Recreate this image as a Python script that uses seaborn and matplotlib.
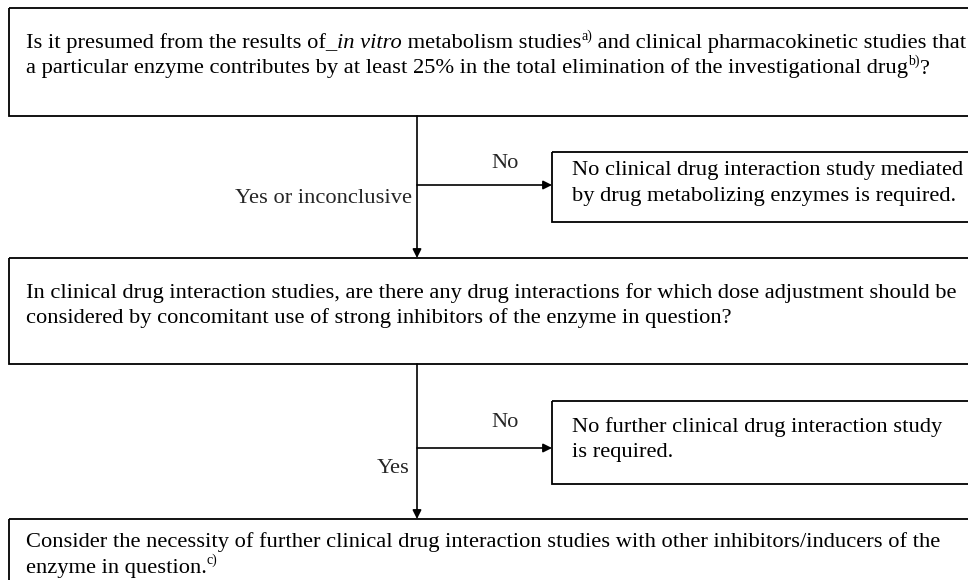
import matplotlib
matplotlib.use("Agg")
import matplotlib.pyplot as plt
from matplotlib.patches import Rectangle
import seaborn as sns

sns.set_theme(style="white")
plt.rcParams["font.family"] = ["Liberation Serif", "DejaVu Serif"]

# box texts, one list per line; (text, kind) with kind n=normal, it=italic, sup=superscript
q1_line1 = [("Is it presumed from the results of_", "n"), ("in vitro", "it"),
            (" metabolism studies", "n"), ("a)", "sup"),
            (" and clinical pharmacokinetic studies that", "n")]
q1_line2 = [("a particular enzyme contributes by at least 25% in the total elimination of the investigational drug", "n"),
            ("b)", "sup"), ("?", "n")]
end1_lines = ["No clinical drug interaction study mediated",
              "by drug metabolizing enzymes is required."]
q2_lines = ["In clinical drug interaction studies, are there any drug interactions for which dose adjustment should be",
            "considered by concomitant use of strong inhibitors of the enzyme in question?"]
end2_lines = ["No further clinical drug interaction study",
              "is required."]
final_line1 = [("Consider the necessity of further clinical drug interaction studies with other inhibitors/inducers of the", "n")]
final_line2 = [("enzyme in question.", "n"), ("c)", "sup")]
branch_no = ["No", "No"]
branch_yes = ["Yes or inconclusive", "Yes"]

FS = 16.2
LINE_H = 25.5
STEM_X = 417
SIDE_X = 552


def rich_line(ax, x, y, parts):
    """Write a line made of pieces (normal / italic / superscript) one after another."""
    base = prev = None
    for s, kind in parts:
        kw = dict(fontsize=FS, color="black", ha="left")
        if kind == "it":
            kw["style"] = "italic"
        if kind == "sup":
            kw["fontsize"] = FS * 0.62
        if prev is None:
            prev = base = ax.text(x, y, s, va="baseline", **kw)
            continue
        dy = FS * 0.46 if kind == "sup" else 0
        prev = ax.annotate(s, xy=(1, 0), xycoords=(prev, base), xytext=(0, dy),
                           textcoords="offset points", va="bottom", **kw)


def box(ax, x0, y0, y1, lines, tx, ty):
    # boxes run off the right edge of the page, as in the scan
    ax.add_patch(Rectangle((x0, y0), 1000 - x0, y1 - y0, fill=False,
                           edgecolor="black", linewidth=1.3))
    for i, line in enumerate(lines):
        if isinstance(line, str):
            line = [(line, "n")]
        rich_line(ax, tx, ty + i * LINE_H, line)


def arrow(ax, x0, y0, x1, y1):
    ax.annotate("", xy=(x1, y1), xytext=(x0, y0),
                arrowprops=dict(arrowstyle="-|>", color="black", lw=1.2,
                                mutation_scale=13, shrinkA=0, shrinkB=0))


fig = plt.figure(figsize=(9.68, 5.8), dpi=100)
ax = fig.add_axes([0, 0, 1, 1])
ax.set_xlim(0, 968)
ax.set_ylim(580, 0)
ax.axis("off")

box(ax, 9, 8, 116, [q1_line1, q1_line2], 26, 48)
box(ax, SIDE_X, 152, 222, end1_lines, 572, 175)
box(ax, 9, 258, 364, q2_lines, 26, 298)
box(ax, SIDE_X, 401, 484, end2_lines, 572, 432)
box(ax, 9, 519, 640, [final_line1, final_line2], 26, 547)

# stems and branches
arrow(ax, STEM_X, 116, STEM_X, 258)
arrow(ax, STEM_X, 185, SIDE_X, 185)
arrow(ax, STEM_X, 364, STEM_X, 519)
arrow(ax, STEM_X, 448, SIDE_X, 448)

ax.text(505, 168, branch_no[0], fontsize=FS, ha="center", va="baseline")
ax.text(505, 427, branch_no[1], fontsize=FS, ha="center", va="baseline")
ax.text(STEM_X - 5, 203, branch_yes[0], fontsize=FS, ha="right", va="baseline")
ax.text(STEM_X - 7, 473, branch_yes[1], fontsize=FS, ha="right", va="baseline")

fig.savefig("out.png", dpi=100, facecolor="white")
